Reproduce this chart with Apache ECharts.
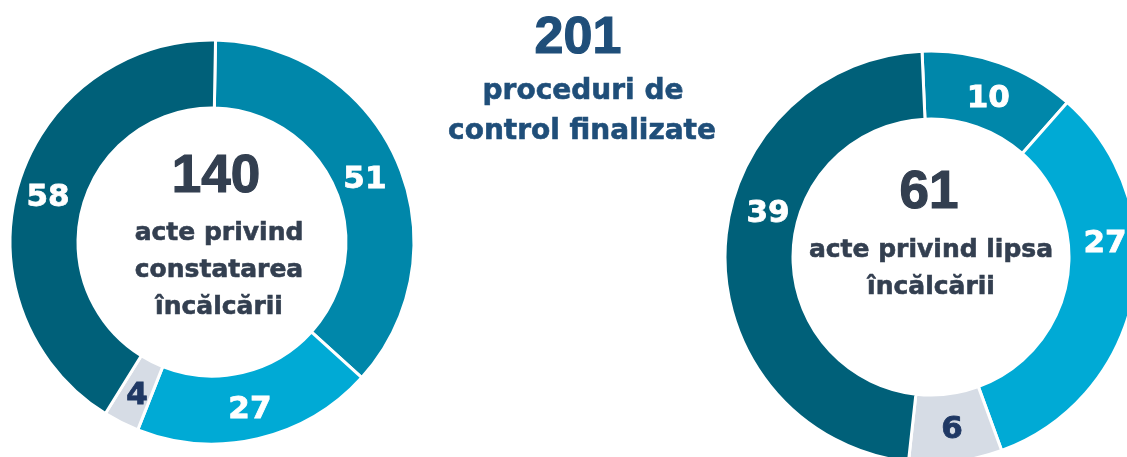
<!DOCTYPE html>
<html>
<head>
<meta charset="utf-8">
<script src="https://cdn.jsdelivr.net/npm/echarts@6/dist/echarts.min.js"></script>
<style>
html,body{margin:0;padding:0;background:#fff;}
#chart{width:1127px;height:457px;}
</style>
</head>
<body>
<div id="chart"></div>
<script>
// Data
const leftCategories = ['Categoria 1', 'Categoria 2', 'Categoria 3', 'Categoria 4'];
const leftValues = [51, 27, 4, 58];
const rightCategories = ['Categoria 1', 'Categoria 2', 'Categoria 3', 'Categoria 4'];
const rightValues = [10, 27, 6, 39];
const totalLabel = '201';
const totalText = ['proceduri de', 'control finalizate'];
const leftTotal = '140';
const leftText = ['acte privind', 'constatarea', 'încălcării'];
const rightTotal = '61';
const rightText = ['acte privind lipsa', 'încălcării'];

// Styling
const sliceColors = ['#0087AA', '#00AAD5', '#D6DCE5', '#006079'];
const labelColors = ['#ffffff', '#ffffff', '#1F3864', '#ffffff'];
const leftLabelOffsets = [[-4, 6], [-1, 1], [2, 1], [0, 4]];
const rightLabelOffsets = [[-1, 7], [2, -45], [0, -1], [12, -37]];

function buildData(cats, vals, offsets) {
  return vals.map((v, i) => ({
    name: cats[i],
    value: v,
    itemStyle: { color: sliceColors[i] },
    label: { color: labelColors[i], textBorderColor: labelColors[i], textBorderWidth: 0.8, offset: offsets[i] }
  }));
}

const chart = echarts.init(document.getElementById('chart'), null, { renderer: 'canvas' });
const numFont = 'bold 53px "Liberation Sans", Arial, sans-serif';
const txtFont = 'bold 25px "DejaVu Sans", sans-serif';

function txt(text, x, y, font, fill, sw) {
  return { type: 'text', x: x, y: y, silent: true,
    style: { text: text, font: font, fill: fill, stroke: fill, lineWidth: sw, align: 'center', verticalAlign: 'middle' } };
}

const graphics = [
  txt(totalLabel, 578, 39, 'bold 52px "Liberation Sans", Arial, sans-serif', '#1F4E79', 1.2),
  txt(totalText[0], 583, 92, 'bold 28px "DejaVu Sans", sans-serif', '#1F4E79', 0.6),
  txt(totalText[1], 582, 132, 'bold 28px "DejaVu Sans", sans-serif', '#1F4E79', 0.6),
  txt(leftTotal, 216, 177, numFont, '#333F50', 1.2),
  txt(rightTotal, 929, 193, numFont, '#333F50', 1.2)
];
leftText.forEach((t, i) => graphics.push(txt(t, 219, 233 + i * 37, txtFont, '#333F50', 0.6)));
rightText.forEach((t, i) => graphics.push(txt(t, 931, 250 + i * 37, txtFont, '#333F50', 0.6)));

const labelCfg = {
  show: true,
  position: 'inside',
  formatter: '{c}',
  fontFamily: '"DejaVu Sans", sans-serif',
  fontWeight: 'bold',
  fontSize: 31
};

chart.setOption({
  backgroundColor: '#ffffff',
  animation: false,
  series: [
    {
      type: 'pie',
      center: [212, 242],
      radius: [134, 202],
      startAngle: 89,
      clockwise: true,
      avoidLabelOverlap: false,
      itemStyle: { borderColor: '#ffffff', borderWidth: 3 },
      label: labelCfg,
      labelLine: { show: false },
      emphasis: { disabled: true },
      data: buildData(leftCategories, leftValues, leftLabelOffsets)
    },
    {
      type: 'pie',
      center: [931, 257],
      radius: [138, 206],
      startAngle: 92.5,
      clockwise: true,
      avoidLabelOverlap: false,
      itemStyle: { borderColor: '#ffffff', borderWidth: 3 },
      label: labelCfg,
      labelLine: { show: false },
      emphasis: { disabled: true },
      data: buildData(rightCategories, rightValues, rightLabelOffsets)
    }
  ],
  graphic: graphics
});
</script>
</body>
</html>
